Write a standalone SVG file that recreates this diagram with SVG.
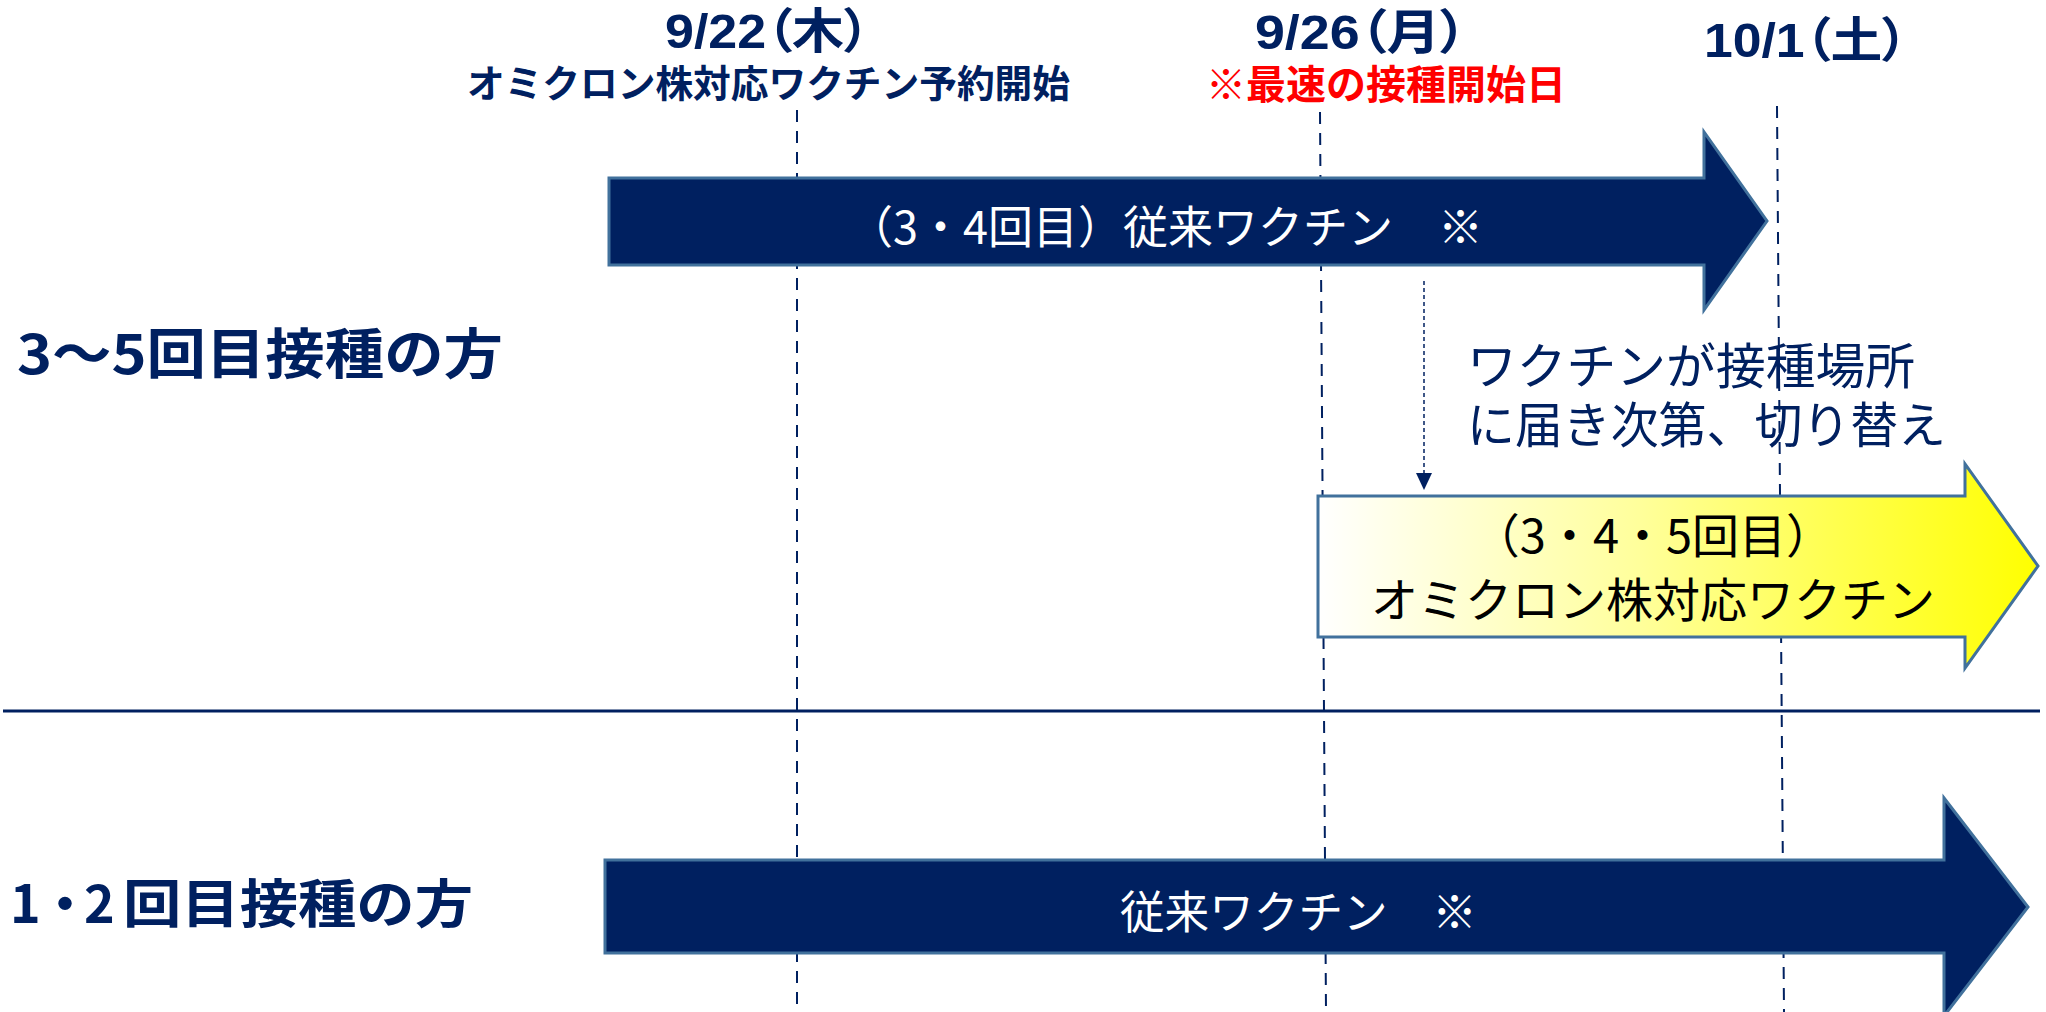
<svg xmlns="http://www.w3.org/2000/svg" width="2046" height="1012" viewBox="0 0 2046 1012">
<style>
text { font-family: "Noto Sans CJK JP", "Noto Sans", sans-serif; }
.date { font-family: "Liberation Sans", "Noto Sans CJK JP", sans-serif; font-weight: 700; font-size: 48px; fill: #002060; font-feature-settings: "palt"; }
.navy { fill: #002060; }
.b { font-weight: 700; }
.w { fill: #FFFFFF; }
.k { fill: #000000; }
.red { fill: #FF0000; }
.vline { stroke: #002060; stroke-width: 2; stroke-dasharray: 12 9; fill: none; }
.arrowNavy { fill: #002060; stroke: #41719C; stroke-width: 3; }
.arrowYellow { fill: url(#yg); stroke: #41719C; stroke-width: 3; }
</style>
<defs>
<linearGradient id="yg" x1="0" y1="0" x2="1" y2="0">
<stop offset="0" stop-color="#FFFFFF"/>
<stop offset="0.45" stop-color="#FFFF9A"/>
<stop offset="1" stop-color="#FFFF00"/>
</linearGradient>
<marker id="ah" viewBox="0 0 17 16" refX="17" refY="8" markerWidth="17" markerHeight="16" markerUnits="userSpaceOnUse" orient="auto">
<path d="M0,0 L17,8 L0,16 Z" fill="#002060"/>
</marker>
</defs>
<rect x="0" y="0" width="2046" height="1012" fill="#FFFFFF"/>

<g id="timeline-lines">
<line class="vline" x1="797" y1="110" x2="797" y2="1012"/>
<line class="vline" x1="1320" y1="112" x2="1326" y2="1012"/>
<line class="vline" x1="1777" y1="106" x2="1784" y2="1012"/>
<line x1="3" y1="711" x2="2040" y2="711" stroke="#002060" stroke-width="3"/>
</g>

<g id="date-0922">
<text class="navy b"><tspan class="date" x="665" y="48" textLength="205" lengthAdjust="spacingAndGlyphs">9/22（木）</tspan><tspan x="467" y="97" font-size="38" textLength="603" lengthAdjust="spacingAndGlyphs">オミクロン株対応ワクチン予約開始</tspan></text>
</g>
<g id="date-0926">
<text class="b"><tspan class="date" x="1255" y="49" textLength="212" lengthAdjust="spacingAndGlyphs">9/26（月）</tspan><tspan class="red" x="1206" y="99" font-size="40" textLength="360" lengthAdjust="spacingAndGlyphs">※最速の接種開始日</tspan></text>
</g>
<g id="date-1001">
<text class="date" x="1704" y="57" textLength="204" lengthAdjust="spacingAndGlyphs">10/1（土）</text>
</g>

<g id="label-3-5">
<text class="navy b" x="17" y="374" font-size="54" textLength="486" lengthAdjust="spacingAndGlyphs">3～5回目接種の方</text>
</g>
<g id="label-1-2">
<text class="navy b" font-size="52" x="10" y="923">1<tspan x="39">・</tspan><tspan x="84">2</tspan><tspan x="123" textLength="350" lengthAdjust="spacingAndGlyphs">回目接種の方</tspan></text>
</g>

<g id="arrow-conventional-34">
<polygon class="arrowNavy" points="609,178 1704,178 1704,132 1767,221 1704,310 1704,265 609,265"/>
<text class="w" x="848" y="244" font-size="45" textLength="635" lengthAdjust="spacingAndGlyphs">（3・4回目）従来ワクチン　※</text>
</g>

<g id="note-switch">
<text class="navy" font-size="49"><tspan x="1467" y="384" textLength="448" lengthAdjust="spacingAndGlyphs">ワクチンが接種場所</tspan><tspan x="1467" y="443" textLength="479" lengthAdjust="spacingAndGlyphs">に届き次第、切り替え</tspan></text>
</g>

<g id="arrow-omicron">
<polygon class="arrowYellow" points="1318,496 1965,496 1965,464 2038,566 1965,668 1965,637 1318,637"/>
<text class="k" font-size="47" text-anchor="middle"><tspan x="1653" y="553">（3・4・5回目）</tspan><tspan x="1653" y="617">オミクロン株対応ワクチン</tspan></text>
</g>

<g id="arrow-conventional-12">
<polygon class="arrowNavy" points="605,860 1944,860 1944,798 2028,907 1944,1016 1944,953 605,953"/>
<text class="w" x="1120" y="929" font-size="45" textLength="357" lengthAdjust="spacingAndGlyphs">従来ワクチン　※</text>
</g>

<g id="connectors">
<line x1="1424" y1="281" x2="1424" y2="490" stroke="#002060" stroke-width="1.5" stroke-dasharray="4 3" marker-end="url(#ah)"/>
</g>
</svg>
